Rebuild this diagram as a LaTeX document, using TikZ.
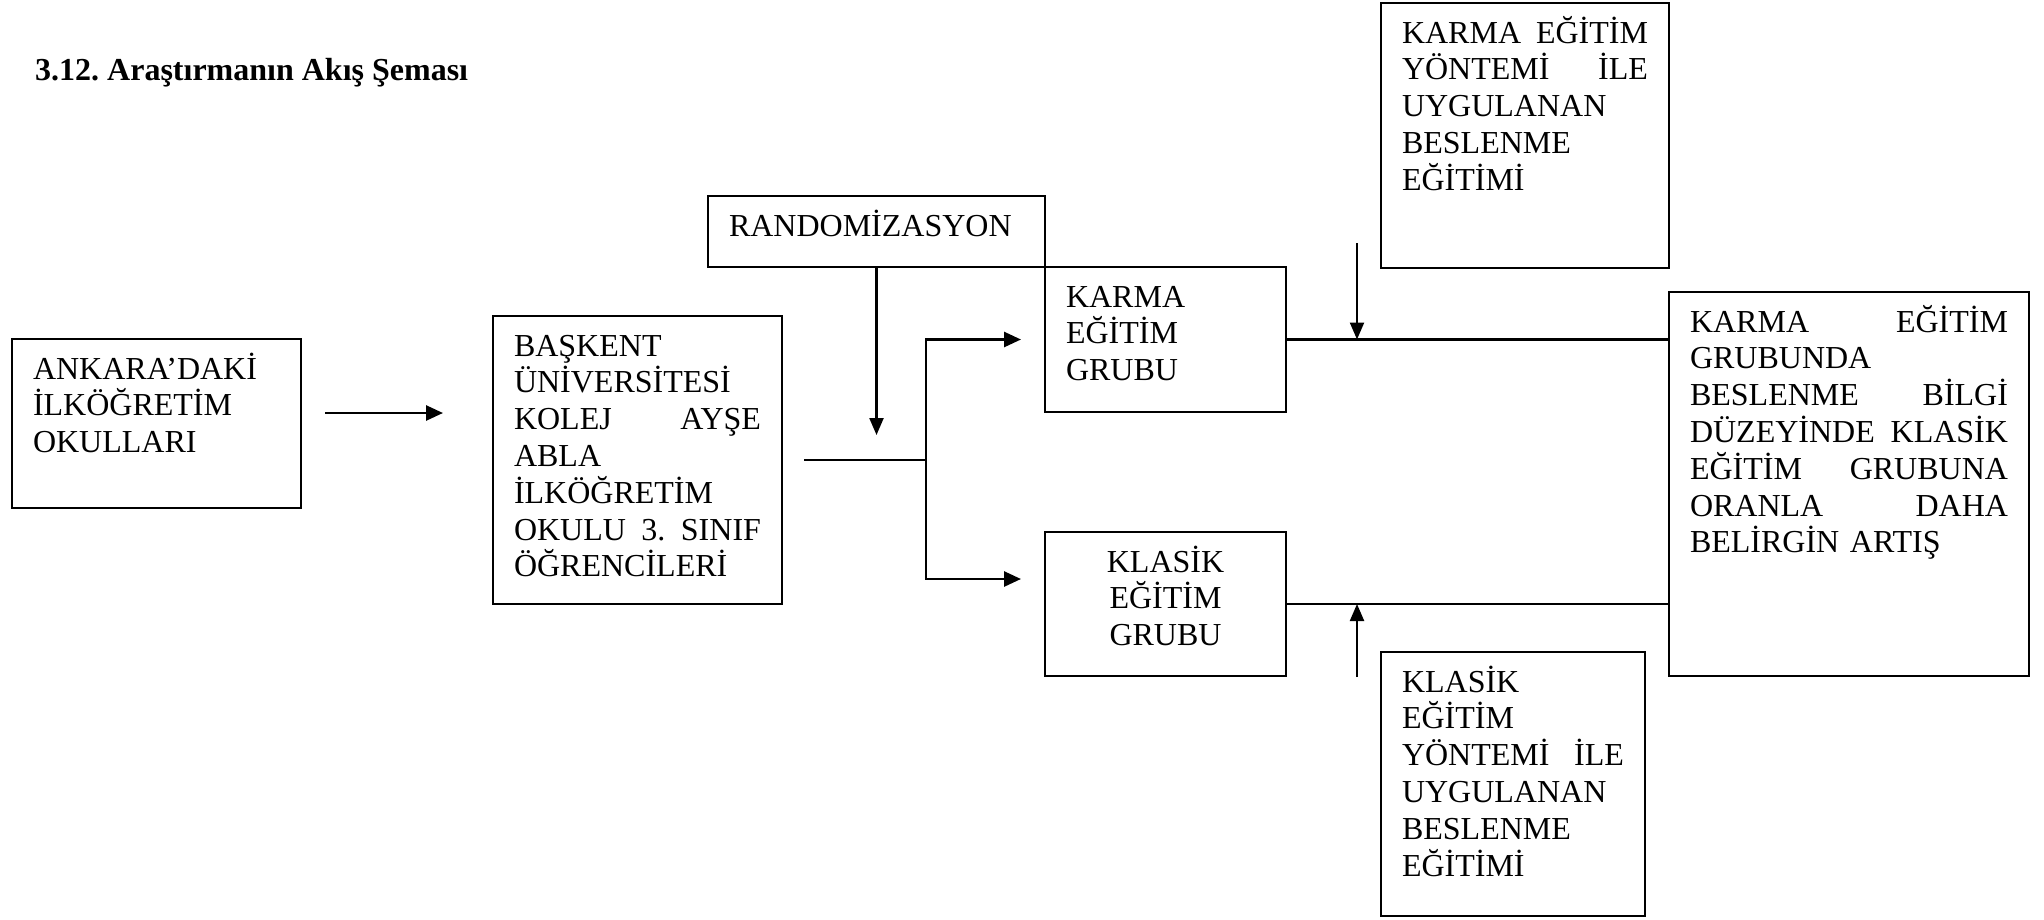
\documentclass[tikz,border=0pt]{standalone}
\usepackage{fontspec}
\setmainfont{Liberation Serif}
\frenchspacing
\usetikzlibrary{positioning, arrows.meta}

\tikzset{
  kutu/.style={draw, line width=2.5pt, anchor=north west, inner xsep=21pt, inner ysep=0pt,
    outer sep=0pt, text height=40pt, align=left, font=\fontsize{32}{36.8}\selectfont},
  bag/.style={line width=2.7pt},
  ok/.style={bag, -{Triangle[length=17pt, width=15pt]}},
  inceok/.style={line width=2.2pt, -{Triangle[length=17pt, width=14pt]}},
}

\begin{document}
\begin{tikzpicture}[x=1pt, y=-1pt]
    \useasboundingbox (0,0) rectangle (2044,919);

    % Baslik
    \node[anchor=base west, inner sep=0pt, font=\fontsize{32}{36.8}\selectfont\bfseries] (baslik) at (35,80) {3.12. Araştırmanın Akış Şeması};

    % Kutular
    \node[kutu, text width=247pt, text depth=129pt] (ankara) at (12,339) {ANKARA’DAKİ\\İLKÖĞRETİM\\OKULLARI};
    \node[kutu, text width=247pt, text depth=248pt] (baskent) at (493,316) {BAŞKENT\\ÜNİVERSİTESİ\\KOLEJ\hfill AYŞE\\ABLA\\İLKÖĞRETİM\\OKULU\hfill 3.\hfill SINIF\\ÖĞRENCİLERİ};
    \node[kutu, text width=295pt, text depth=31pt] (random) at (708,196) {RANDOMİZASYON};
    \node[kutu, text width=199pt, text depth=105pt] (karma) at (1045,267) {KARMA\\EĞİTİM\\GRUBU};
    \node[kutu, text width=199pt, text depth=104pt, align=center] (klasik) at (1045,532) {KLASİK\\EĞİTİM\\GRUBU};
    \node[kutu, text width=246pt, text depth=225pt] (karmayon) at (1381,3) {KARMA\hfill EĞİTİM\\YÖNTEMİ\hfill İLE\\UYGULANAN\\BESLENME\\EĞİTİMİ};
    \node[kutu, text width=222pt, text depth=224pt] (klasikyon) at (1381,652) {KLASİK\\EĞİTİM\\YÖNTEMİ\hfill İLE\\UYGULANAN\\BESLENME\\EĞİTİMİ};
    \node[kutu, text width=318pt, text depth=344pt] (sonuc) at (1669,292) {KARMA\hfill EĞİTİM\\GRUBUNDA\\BESLENME\hfill BİLGİ\\DÜZEYİNDE\hfill KLASİK\\EĞİTİM\hfill GRUBUNA\\ORANLA\hfill DAHA\\BELİRGİN ARTIŞ};

    % Baglantilar
    \draw[ok, shorten <=24pt, shorten >=50pt] ([yshift=10.5pt]ankara.east) -- ([yshift=10.5pt]ankara.east -| baskent.west);

    \coordinate (ayrim) at (926,460);
    \draw[bag] ([xshift=22pt]baskent.east) -- (ayrim);
    \draw[ok, shorten >=24pt] (ayrim) |- (karma.west);
    \draw[ok, shorten >=24pt] (ayrim) |- ([yshift=25pt]klasik.west);

    \coordinate (randuc) at (876.5,435);
    \draw[inceok] (random.south) -- (randuc);

    \draw[bag] (karma.east) -- (karma.east -| sonuc.west);
    \coordinate (karmaust) at (1357,243);
    \draw[inceok] (karmaust) -- (karmaust |- karma.east);

    \draw[bag] (klasik.east) -- (klasik.east -| sonuc.west);
    \coordinate (klasikalt) at (1357,677);
    \draw[inceok] (klasikalt) -- (klasikalt |- klasik.east);

\end{tikzpicture}
\end{document}
